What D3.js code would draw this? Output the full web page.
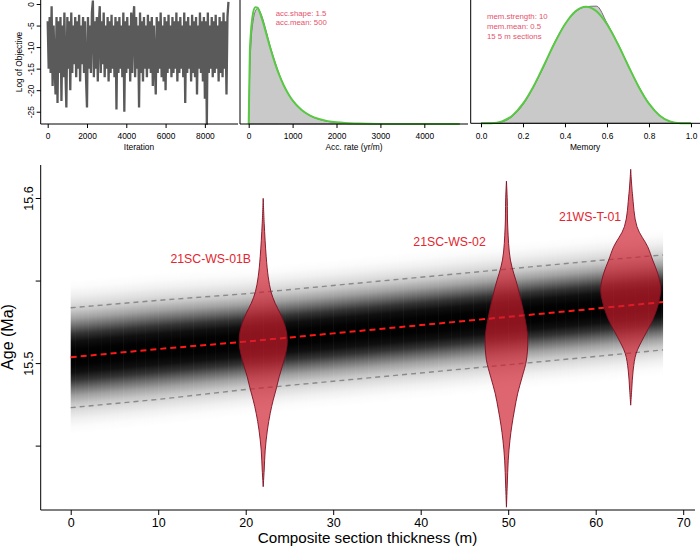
<!DOCTYPE html>
<html><head><meta charset="utf-8">
<script src="https://cdn.jsdelivr.net/npm/d3@7"></script>
<style>body{margin:0;background:#fff}svg{display:block;font-family:"Liberation Sans",Arial,Helvetica,sans-serif}</style>
</head><body><svg id="c" width="700" height="548"></svg>
<script>
// ---------- DATA ----------
// Panel 1: MCMC trace (log of objective), one value every traceStep iterations
const traceStep = 50;
const traceVals = [
 -4,-15,-3,-16,-0.5,-19,-5,-14,-21,-3,
 -23,-4,-16,-3,-22.5,-5,-17,-2,-15,-24,
 -3,-15,-4,-20,-2,-16,-5,-14,-3,-17,
 -4,-15,-2.5,-18,-5,-14,-3,-16,-4,-17,
 -24,-3,-15,-5,-16,-2,0.8,-17,-4,-15,
 -3,-18,-5,-0.5,-16,-4,-14,-2,-17,-5,
 -15,-3,-18,-4,-16,-2.5,-15,-5,-17,-3,
 -24.5,-4,-16,-3,-15,-5,-17,-2,-25,-4,
 -16,-3,-15,-5,-18,-2,-16,-4,-0.5,-17,
 -3,-15,-5,-24,-2,-16,-4,-18,-3,-15,
 -5,-17,-2.5,-15,-4,-16,-3,-19,-5,-14,
 -21,-3,-16,-4,-15,-2,-17,-5,-18,-3,
 -20,-4,-16,-2.5,-15,-5,-17,-3,-16,-4,
 -15,-2,-18,-4,-16,-3,-15,-5,-17,-2,
 -23,-4,-16,-3,-15,-5,-18,-2.5,-16,-4,
 -17,-3,-21,-5,-15,-2,-16,-4,-18,-3,
 -22,-4,-28,-2,-16,-5,-15,-3,-17,-4,
 -16,-2.5,-15,-5,-18,-3,-16,-4,-17,-2,
 -15,-4,-21,-3,0.5
];
const traceTicksX = [0,2000,4000,6000,8000];
const traceTicksY = [0,-5,-10,-15,-20,-25];

// Panel 2: accumulation rate prior (green) and posterior (grey)
const accX     = [0,25,50,100,150,200,300,400,500,600,700,800,900,1000,1200,1400,1600,1800,2000,2200,2500,3000,3500,4000,4800];
const accPrior = [0,.593,.777,.946,.996,.991,.899,.769,.637,.517,.414,.328,.258,.201,.121,.0717,.042,.0245,.0142,.0081,.0035,.0009,.0002,.00005,0];
const accPost  = [0,.45,.68,.88,.96,.985,.92,.79,.65,.53,.42,.33,.26,.20,.12,.07,.04,.022,.012,.007,.003,.001,.0003,.0001,0];
const accTicks = [0,1000,2000,3000,4000];
const accText  = ["acc.shape:  1.5","acc.mean:  500"];

// Panel 3: memory prior (green) and posterior (grey)
const memX     = [0,.05,.1,.15,.2,.25,.3,.35,.4,.45,.5,.55,.6,.65,.7,.75,.8,.85,.9,.95,1];
const memPrior = [0,.0013,.0168,.0677,.168,.316,.498,.686,.849,.961,1,.961,.849,.686,.498,.316,.168,.0677,.0168,.0013,0];
const memPost  = [0,.001,.012,.06,.16,.31,.49,.69,.85,.955,1.0,1.005,.86,.69,.50,.32,.17,.07,.015,.001,0];
const memTicks = [0,0.2,0.4,0.6,0.8,1.0];
const memText  = ["mem.strength: 10","mem.mean: 0.5","15 5 m sections"];

// Main: age-depth model
const bandDepth = [0,10,20,30,40,50,60,67.7];
const bandMean  = [15.5035,15.5085,15.513,15.518,15.523,15.528,15.533,15.537];
const bandUpper = [15.5335,15.538,15.542,15.547,15.552,15.557,15.562,15.5655];
const bandLower = [15.473,15.478,15.484,15.489,15.494,15.499,15.504,15.508];
const xTicks = [0,10,20,30,40,50,60,70];
const yTicks = [15.45,15.5,15.55,15.6];
const yLabeled = [15.5,15.6];

// Dated samples (violins)
const sampleNames  = ["21SC-WS-01B","21SC-WS-02","21WS-T-01"];
const sampleDepths = [22,49.8,64];
const sample1Ages = [15.5998,15.5847,15.5644,15.5523,15.5432,15.5362,15.5301,15.5241,15.5180,15.5119,15.5059,15.4978,15.4917,15.4850,15.4776,15.4695,15.4594,15.4473,15.4352,15.4251];
const sample1Dens = [0,.033,.1,.167,.26,.4,.567,.7,.783,.8,.75,.633,.533,.443,.333,.233,.14,.067,.033,0];
const sample2Ages = [15.6103,15.5988,15.5824,15.5624,15.5461,15.5321,15.5218,15.5139,15.5018,15.4915,15.4818,15.4715,15.4624,15.4533,15.4412,15.4261,15.4127];
const sample2Dens = [0,.027,.043,.133,.377,.557,.667,.71,.667,.523,.377,.267,.183,.117,.06,.027,0];
const sample3Ages = [15.6174,15.6028,15.5826,15.5705,15.5624,15.5544,15.5453,15.5362,15.5261,15.5159,15.5059,15.4958,15.4836,15.4745];
const sample3Dens = [0,.057,.21,.567,.733,.9,1,.927,.733,.443,.183,.083,.033,0];

// ---------- LAYOUT / STYLE ----------
const labelDepth = [16.0,43.3,59.35];
const labelAge   = [15.5635,15.5735,15.5885];
const RED_TXT = "#e3262f", PINK_TXT = "#e5526a", GREEN = "#58c943";

const svg = d3.select("#c");

function lbox(x0,y0,x1,y1){
  svg.append("path").attr("d",`M${x0},${y0}V${y1}H${x1}`).attr("fill","none").attr("stroke","#000").attr("stroke-width",1);
}
function bottomAxis(scale,ticks,y,size,pad,fs,fmt){
  const g = svg.append("g").attr("transform",`translate(0,${y})`)
    .call(d3.axisBottom(scale).tickValues(ticks).tickSize(size).tickPadding(pad).tickFormat(fmt||(d=>String(d))));
  g.select(".domain").remove();
  g.selectAll("text").attr("font-size",fs).attr("fill","#000").attr("font-family",null);
  g.selectAll("line").attr("stroke","#000");
  return g;
}
function leftAxis(scale,ticks,x,size,off,fs,fmt){
  const g = svg.append("g").attr("transform",`translate(${x},0)`)
    .call(d3.axisLeft(scale).tickValues(ticks).tickSize(size).tickFormat(fmt||(d=>String(d))));
  g.select(".domain").remove();
  g.selectAll("line").attr("stroke","#000");
  g.selectAll("text").attr("x",null).attr("dy",null).attr("text-anchor","middle")
    .attr("transform",`translate(${-off},0) rotate(-90)`).attr("font-size",fs).attr("fill","#000").attr("font-family",null);
  return g;
}
function vlabel(txt,x,y,fs){
  svg.append("text").attr("transform",`translate(${x},${y}) rotate(-90)`).attr("text-anchor","middle").attr("font-size",fs).text(txt);
}
function hlabel(txt,x,y,fs){
  svg.append("text").attr("x",x).attr("y",y).attr("text-anchor","middle").attr("font-size",fs).text(txt);
}

// ---------- PANEL 1 ----------
const p1x = d3.scaleLinear([-356,9686],[40.7,238]);
const p1y = d3.scaleLinear([-27.85,0.93],[124,0]);
svg.append("path").datum(traceVals)
  .attr("d",d3.line().x((d,i)=>p1x(i*traceStep)).y(d=>p1y(d)))
  .attr("fill","none").attr("stroke","#5a5a5a").attr("stroke-width",2.3).attr("stroke-linejoin","bevel");
lbox(40.7,0,238,124);
bottomAxis(p1x,traceTicksX,124,4,5.5,8.4);
leftAxis(p1y,traceTicksY,40.7,4,7,8.4);
vlabel("Log of Objective",22,62,8.4);
hlabel("Iteration",139,150,8.4);

// ---------- PANEL 2 ----------
const p2x = d3.scaleLinear([-198,4995],[240,468]);
const p2y = d3.scaleLinear([0,1],[124,6.7]);
const acc = accX.map((x,i)=>({x,pr:accPrior[i],po:accPost[i]}));
svg.append("path").datum(acc)
  .attr("d",d3.area().x(d=>p2x(d.x)).y0(p2y(0)).y1(d=>p2y(d.po)).curve(d3.curveMonotoneX))
  .attr("fill","#c9c9c9").attr("stroke","#555").attr("stroke-width",0.8);
svg.append("path").datum(acc)
  .attr("d",d3.line().x(d=>p2x(d.x)).y(d=>p2y(d.pr)).curve(d3.curveMonotoneX))
  .attr("fill","none").attr("stroke",GREEN).attr("stroke-width",2);
lbox(240,0,468,124);
bottomAxis(p2x,accTicks,124,4,5.5,8.4);
accText.forEach((t,i)=>svg.append("text").attr("x",275.7).attr("y",15.6+i*9).attr("font-size",7.8).attr("fill",PINK_TXT).text(t));
hlabel("Acc. rate (yr/m)",354,150,8.4);

// ---------- PANEL 3 ----------
const p3x = d3.scaleLinear([-0.049,1.043],[470.7,700]);
const p3y = d3.scaleLinear([0,1],[123.3,6.7]);
const mem = memX.map((x,i)=>({x,pr:memPrior[i],po:memPost[i]}));
svg.append("path").datum(mem)
  .attr("d",d3.area().x(d=>p3x(d.x)).y0(p3y(0)).y1(d=>p3y(d.po)).curve(d3.curveMonotoneX))
  .attr("fill","#c9c9c9").attr("stroke","#555").attr("stroke-width",0.8);
svg.append("path").datum(mem)
  .attr("d",d3.line().x(d=>p3x(d.x)).y(d=>p3y(d.pr)).curve(d3.curveMonotoneX))
  .attr("fill","none").attr("stroke",GREEN).attr("stroke-width",2);
lbox(470.7,0,700,123.3);
bottomAxis(p3x,memTicks,123.3,4,5.5,8.4,d=>d.toFixed(1));
memText.forEach((t,i)=>svg.append("text").attr("x",487).attr("y",19+i*9.8).attr("font-size",7.8).attr("fill",PINK_TXT).text(t));
hlabel("Memory",585,150,8.4);

// ---------- MAIN ----------
const mx = d3.scaleLinear([-3.43,71.35],[40.7,695]);
const my = d3.scaleLinear([15.411,15.62],[510,165]);
const meanAt = d3.scaleLinear(bandDepth,bandMean);
const upAt = d3.scaleLinear(bandDepth,bandUpper);
const loAt = d3.scaleLinear(bandDepth,bandLower);

const defs = svg.append("defs");
const grad = defs.append("linearGradient").attr("id","band").attr("x1",0).attr("y1",0).attr("x2",0).attr("y2",1);
const gstops = [[0,255],[0.05,251],[0.1,240],[0.15,222],[0.2,198],[0.25,160],[0.3,108],[0.35,52],[0.4,16],[0.45,3],[0.5,0]];
gstops.forEach(([o,g])=>grad.append("stop").attr("offset",o).attr("stop-color",d3.rgb(g,g,g).formatHex()));
gstops.slice(0,-1).reverse().forEach(([o,g])=>grad.append("stop").attr("offset",1-o).attr("stop-color",d3.rgb(g,g,g).formatHex()));

const endDepth = bandDepth[bandDepth.length-1];
const colW = 0.5;
const cols = d3.range(0,endDepth,colW);
const halfSpan = c => (upAt(c)-loAt(c))/2*1.55;
svg.append("g").selectAll("rect").data(cols).join("rect")
  .attr("x",d=>mx(d))
  .attr("width",d=>mx(Math.min(d+colW,endDepth))-mx(d)+(d+colW<endDepth?0.6:0))
  .attr("y",d=>{const c=d+colW/2;return my(meanAt(c)+halfSpan(c));})
  .attr("height",d=>{const c=d+colW/2;return my(meanAt(c)-halfSpan(c))-my(meanAt(c)+halfSpan(c));})
  .attr("fill","url(#band)");

const lineOf = arr => d3.line().x((d,i)=>mx(bandDepth[i])).y(d=>my(d))(arr);
svg.append("path").attr("d",lineOf(bandUpper)).attr("fill","none").attr("stroke","#8a8a8a").attr("stroke-width",1.4).attr("stroke-dasharray","5,4");
svg.append("path").attr("d",lineOf(bandLower)).attr("fill","none").attr("stroke","#8a8a8a").attr("stroke-width",1.4).attr("stroke-dasharray","5,4");
svg.append("path").attr("d",lineOf(bandMean)).attr("fill","none").attr("stroke","#ff1a1a").attr("stroke-width",2).attr("stroke-dasharray","6,4");

// violins
const wScale = d3.scaleLinear([0,1],[0,30]);
const samples = [[sample1Ages,sample1Dens],[sample2Ages,sample2Dens],[sample3Ages,sample3Dens]];
samples.forEach(([ages,dens],k)=>{
  const cx = mx(sampleDepths[k]);
  const pts = ages.map((a,i)=>({a,d:dens[i]}));
  svg.append("path").datum(pts)
    .attr("d",d3.area().y(d=>my(d.a)).x0(d=>cx-wScale(d.d)).x1(d=>cx+wScale(d.d)).curve(d3.curveCatmullRom.alpha(0.5)))
    .attr("fill","rgb(206,30,45)").attr("fill-opacity",0.68)
    .attr("stroke","#7a1020").attr("stroke-width",0.9);
  svg.append("text").attr("x",mx(labelDepth[k])).attr("y",my(labelAge[k])+4.3)
    .attr("text-anchor","middle").attr("font-size",12.3).attr("fill",RED_TXT).text(sampleNames[k]);
});

lbox(40.7,165,695,510);
bottomAxis(mx,xTicks,510,5,3.4,12.5);
leftAxis(my,yTicks,40.7,5,7.5,12.5,d=>yLabeled.some(v=>Math.abs(v-d)<1e-9)?d.toFixed(1):"");
vlabel("Age (Ma)",13,337,16);
hlabel("Composite section thickness (m)",367.5,543,15.2);
</script></body></html>
